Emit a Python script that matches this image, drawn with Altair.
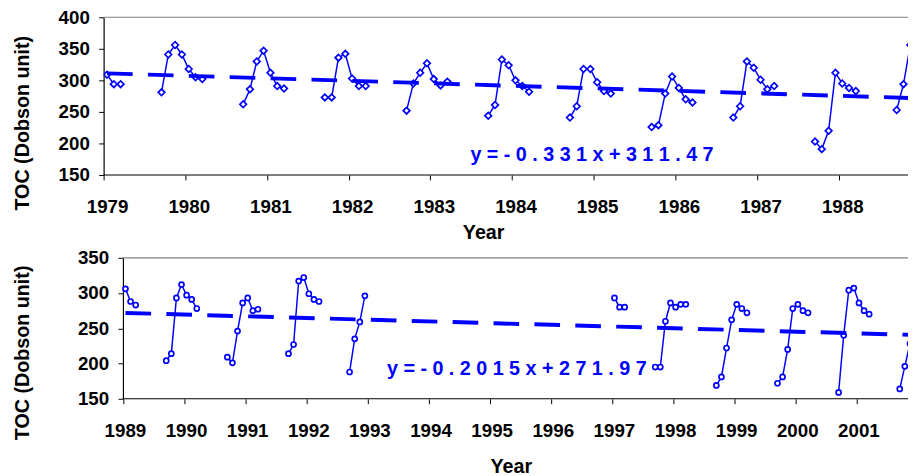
import altair as alt
import pandas as pd

# ---------------- data ----------------
# Top panel 1979-1988 (monthly TOC, Dobson units)
top_months = [
    "1979-01", "1979-02", "1979-03",
    "1979-09", "1979-10", "1979-11", "1979-12", "1980-01", "1980-02", "1980-03",
    "1980-09", "1980-10", "1980-11", "1980-12", "1981-01", "1981-02", "1981-03",
    "1981-09", "1981-10", "1981-11", "1981-12", "1982-01", "1982-02", "1982-03",
    "1982-09", "1982-10", "1982-11", "1982-12", "1983-01", "1983-02", "1983-03",
    "1983-09", "1983-10", "1983-11", "1983-12", "1984-01", "1984-02", "1984-03",
    "1984-09", "1984-10", "1984-11", "1984-12", "1985-01", "1985-02", "1985-03",
    "1985-09", "1985-10", "1985-11", "1985-12", "1986-01", "1986-02", "1986-03",
    "1986-09", "1986-10", "1986-11", "1986-12", "1987-01", "1987-02", "1987-03",
    "1987-09", "1987-10", "1987-11", "1987-12", "1988-01", "1988-02", "1988-03",
    "1988-09", "1988-10", "1988-11",
]
top_toc = [
    309, 294, 294,
    281, 341, 356, 341, 318, 305, 302,
    262, 286, 330, 347, 312, 291, 287,
    273, 273, 336, 342, 303, 291, 291,
    252, 295, 312, 327, 302, 292, 298,
    244, 261, 333, 324, 300, 291, 282,
    241, 259, 318, 318, 297, 283, 279,
    226, 229, 279, 306, 288, 270, 265,
    241, 259, 330, 320, 301, 286, 291,
    203, 191, 220, 312, 295, 288, 283,
    253, 294, 356,
]

# Bottom panel 1989-2001
bot_months = [
    "1989-01", "1989-02", "1989-03",
    "1989-09", "1989-10", "1989-11", "1989-12", "1990-01", "1990-02", "1990-03",
    "1990-09", "1990-10", "1990-11", "1990-12", "1991-01", "1991-02", "1991-03",
    "1991-09", "1991-10", "1991-11", "1991-12", "1992-01", "1992-02", "1992-03",
    "1992-09", "1992-10", "1992-11", "1992-12",
    "1997-01", "1997-02", "1997-03",
    "1997-09", "1997-10", "1997-11", "1997-12", "1998-01", "1998-02", "1998-03",
    "1998-09", "1998-10", "1998-11", "1998-12", "1999-01", "1999-02", "1999-03",
    "1999-09", "1999-10", "1999-11", "1999-12", "2000-01", "2000-02", "2000-03",
    "2000-09", "2000-10", "2000-11", "2000-12", "2001-01", "2001-02", "2001-03",
    "2001-09", "2001-10", "2001-11",
]
bot_toc = [
    306, 288, 283,
    204, 214, 293, 312, 297, 291, 278,
    209, 201, 246, 286, 293, 275, 277,
    214, 227, 317, 322, 299, 291, 288,
    188, 235, 259, 296,
    293, 280, 280,
    195, 195, 260, 286, 280, 284, 284,
    169, 181, 222, 262, 284, 278, 272,
    172, 181, 220, 278, 284, 275, 272,
    159, 240, 304, 307, 286, 275, 270,
    164, 196, 228,
]

# Linear trend lines (end points) and their equations
top_trend_months = ["1979-01", "1988-12"]
top_trend_toc = [311.1, 271.8]
top_equation = "y = - 0 . 3 3 1 x + 3 1 1 . 4 7"
top_equation_at = [1983.49, 182]

bot_trend_months = ["1989-01", "2002-03"]
bot_trend_toc = [271.8, 239.9]
bot_equation = "y = - 0 . 2 0 1 5 x + 2 7 1 . 9 7"
bot_equation_at = [1993.32, 191.6]

top_years = list(range(1979, 1989))
bot_years = list(range(1989, 2002))
top_yticks = [150, 200, 250, 300, 350, 400]
bot_yticks = [150, 200, 250, 300, 350]

BLUE = "#0000ff"
FONT = "Liberation Sans"


def frac_year(m):
    y, mo = (int(v) for v in m.split("-"))
    return y + (mo - 0.5) / 12.0


def season(m):
    y, mo = (int(v) for v in m.split("-"))
    return y if mo >= 9 else y - 1


def panel(months, toc, trend_months, trend_toc, eq, eq_at, years, yticks,
          xdom, x_start, ydom, width, height, shape, size, label_off,
          y_offset, y_title_pad, y_title_y, x_label_pad, x_title_pad, x_title_x):
    df = pd.DataFrame({
        "x": [frac_year(m) for m in months],
        "y": toc,
        "s": [season(m) for m in months],
    })
    tr = pd.DataFrame({"x": [frac_year(m) for m in trend_months], "y": trend_toc})
    tx = pd.DataFrame({"x": [eq_at[0]], "y": [eq_at[1]], "t": [eq]})
    frame = pd.DataFrame({"x": [x_start, x_start], "x2": [xdom[1], xdom[1]],
                          "y": [ydom[1], ydom[0]], "c": ["top", "bottom"]})

    xenc = alt.X("x:Q", scale=alt.Scale(domain=xdom, nice=False, zero=False),
                 axis=alt.Axis(values=years, format="d", title="Year", domain=False,
                               labelFlush=False, labelOverlap=False,
                               labelOffset=label_off, labelPadding=x_label_pad, tickSize=5,
                               titlePadding=x_title_pad, titleX=x_title_x))
    yenc = alt.Y("y:Q", scale=alt.Scale(domain=ydom, nice=False, zero=False),
                 axis=alt.Axis(values=yticks, title="TOC (Dobson unit)", offset=y_offset,
                               labelPadding=9.5, tickSize=5,
                               titlePadding=y_title_pad, titleY=y_title_y))

    frame_lines = alt.Chart(frame).mark_rule().encode(
        x=xenc, x2="x2:Q", y=yenc,
        color=alt.Color("c:N", scale=alt.Scale(domain=["top", "bottom"],
                                               range=["#808080", "#000000"]), legend=None),
        strokeWidth=alt.value(1.2))
    line = alt.Chart(df).mark_line(color=BLUE, strokeWidth=1.5, clip=True).encode(
        x=xenc, y=yenc, detail="s:N")
    pts = alt.Chart(df).mark_point(shape=shape, size=size, filled=True, fill="white",
                                   stroke=BLUE, strokeWidth=1.7, opacity=1,
                                   clip=True).encode(x=xenc, y=yenc)
    trend = alt.Chart(tr).mark_line(color=BLUE, strokeWidth=4, strokeDash=[26, 15.5],
                                    clip=True).encode(x=xenc, y=yenc)
    text = alt.Chart(tx).mark_text(align="left", baseline="middle", font=FONT,
                                   fontSize=20, fontWeight="bold", color=BLUE).encode(
        x=xenc, y=yenc, text="t:N")
    return alt.layer(frame_lines, line, pts, trend, text).properties(width=width, height=height)


top = panel(top_months, top_toc, top_trend_months, top_trend_toc, top_equation,
            top_equation_at, top_years, top_yticks, [1979, 1988.847], 1979, [150, 400],
            816, 160, "diamond", 45, 3.5, 0, 25.7, 107, 18, 6, 385)
bottom = panel(bot_months, bot_toc, bot_trend_months, bot_trend_toc, bot_equation,
               bot_equation_at, bot_years, bot_yticks, [1988.684, 2001.844], 1989,
               [150, 350], 816, 143, "circle", 26, 2, -19.6, 45.3, 96, 18, 17, 413)

chart = alt.concat(top, bottom, columns=1, spacing=7).properties(
    padding={"left": 5, "top": -3, "right": 0, "bottom": 0}
).configure_view(stroke=None).configure_axis(
    grid=False,
    labelFont=FONT, labelFontSize=19, labelFontWeight="bold", labelColor="black",
    titleFont=FONT, titleFontSize=20, titleFontWeight="bold", titleColor="black",
    domainColor="black", tickColor="black", domainWidth=1.2, tickWidth=1,
)

chart.save("out.html", embed_options={"renderer": "svg", "actions": False})
